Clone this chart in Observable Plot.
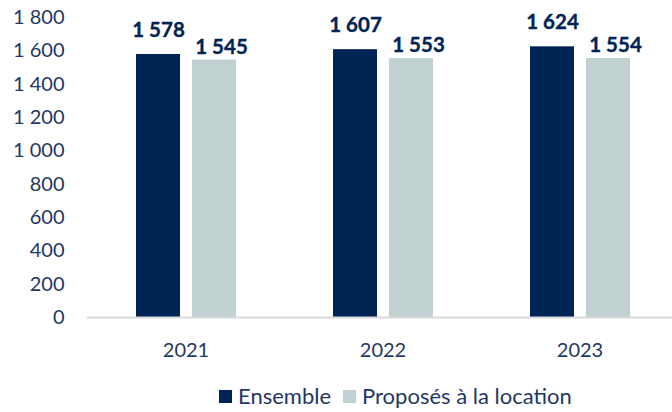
<!DOCTYPE html>
<html>
<head>
<meta charset="utf-8">
<script src="https://cdn.jsdelivr.net/npm/d3@7"></script>
<script src="https://cdn.jsdelivr.net/npm/@observablehq/plot@0.6"></script>
<style>
  html, body { margin: 0; padding: 0; background: #fff; }
  body { width: 672px; height: 412px; overflow: hidden; font-family: Lato, "Open Sans", sans-serif; }
  #legend { display: flex; align-items: center; margin-left: 219px; margin-top: 7px; font-size: 22px; color: #1f3864; white-space: nowrap; line-height: 26px; }
  #legend .sw { width: 13px; height: 13px; display: inline-block; margin-right: 6px; }
  #legend .item { display: flex; align-items: center; margin-right: 12px; }
</style>
</head>
<body>
<div id="chart"></div>
<div id="legend"></div>
<script>
const years = ["2021", "2022", "2023"];
const series = ["Ensemble", "Proposés à la location"];
const ensemble = [1578, 1607, 1624];
const location_ = [1545, 1553, 1554];
const colors = ["#002454", "#c1d1d1"];
const yTicks = [0, 200, 400, 600, 800, 1000, 1200, 1400, 1600, 1800];

const fr = d3.formatLocale({decimal: ",", thousands: " ", grouping: [3], currency: ["", " €"]});
const fmt = fr.format(",d");

const data = [];
years.forEach((y, i) => {
  data.push({year: y, series: series[0], value: ensemble[i]});
  data.push({year: y, series: series[1], value: location_[i]});
});

const labelStyle = {fx: "year", x: "series", y: "value", text: d => fmt(d.value), lineAnchor: "bottom",
  fill: "#002454", fontWeight: "bold", fontSize: 20.5, stroke: "#002454", strokeWidth: 0.35};

const chart = Plot.plot({
  width: 672,
  height: 376,
  marginLeft: 87,
  marginRight: 0,
  marginTop: 17,
  marginBottom: 59,
  style: {fontFamily: "Lato, 'Open Sans', sans-serif", fontSize: "20px", color: "#1f3864", background: "#fff"},
  fx: {domain: years, range: [86, 679], padding: 0, label: null, tickSize: 0, tickPadding: 25},
  x: {domain: series, range: [136, 236], paddingInner: 0.2143, paddingOuter: 0, axis: null},
  y: {domain: [0, 1800], ticks: yTicks, tickFormat: fmt, label: null, tickSize: 0, tickPadding: 23},
  color: {domain: series, range: colors},
  marks: [
    Plot.barY(data, {fx: "year", x: "series", y: "value", fill: "series"}),
    Plot.text(data.filter(d => d.series === series[0]), {...labelStyle, dy: -18}),
    Plot.text(data.filter(d => d.series === series[1]), {...labelStyle, dy: -6.5, dx: 7}),
    Plot.ruleY([0], {stroke: "#d9d9d9", strokeWidth: 2})
  ]
});
document.getElementById("chart").appendChild(chart);

const legend = document.getElementById("legend");
series.forEach((s, i) => {
  const item = document.createElement("span");
  item.className = "item";
  const sw = document.createElement("span");
  sw.className = "sw";
  sw.style.background = colors[i];
  item.appendChild(sw);
  item.appendChild(document.createTextNode(s));
  legend.appendChild(item);
});
</script>
</body>
</html>
